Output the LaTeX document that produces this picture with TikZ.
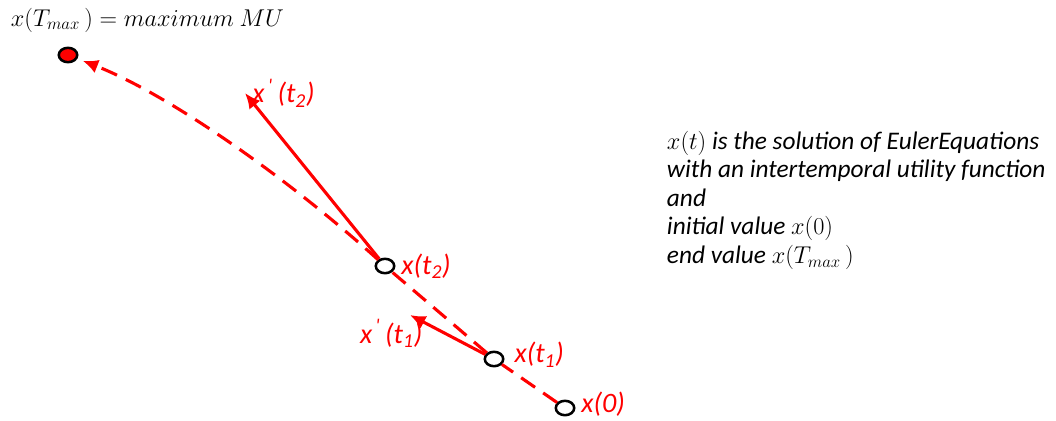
\documentclass[tikz,border=0pt]{standalone}
\usepackage{fontspec}
\setmainfont{Carlito}
\usepackage{tikz}
\usetikzlibrary{arrows.meta,positioning,shapes.geometric}
\definecolor{pathred}{RGB}{255,0,0}
\tikzset{pointbox/.style={draw=black, ellipse, line width=1.8pt, minimum width=0.46cm, minimum height=0.36cm, inner sep=0pt, fill=white}, endbox/.style={pointbox, fill=pathred}, lbl/.style={text=pathred, font=\itshape\fontsize{20}{22}\selectfont, inner sep=1pt}, dpath/.style={pathred, line width=2.2pt, dash pattern=on 12pt off 7pt, -{Latex[length=11pt,width=10pt]}}, vec/.style={pathred, line width=2.2pt, -{Latex[length=11pt,width=10pt]}}}

\begin{document}
\begin{tikzpicture}[x=0.025cm, y=-0.025cm, node distance=4pt]
\useasboundingbox (0,0) rectangle (1056,420);
% points on the path
\node[endbox] (tmax) at (68,55) {};
\node[pointbox] (t2) at (385,266) {};
\node[pointbox] (t1) at (494,359) {};
\node[pointbox] (x0) at (565,408) {};
\coordinate (d2) at (245,93);
\coordinate (d1) at (410,315);
% labels
\node[anchor=west, font=\fontsize{18}{21}\selectfont] (maxlbl) at (6,20) {$x(T_{max}\,) = maximum\ MU$};
\node[lbl, right=3pt of t2] (lt2) {x(t\textsubscript{2})};
\node[lbl, right=6pt of t1, yshift=3pt] (lt1) {x(t\textsubscript{1})};
\node[lbl, right=3pt of x0, yshift=2.5pt] (lx0) {x(0)};
\node[lbl, right=4pt of d2] (ld2) {x\textsuperscript{\,\textquotesingle}\,(t\textsubscript{2})};
\node[lbl, below left=2pt and -10pt of d1] (ld1) {x\textsuperscript{\,\textquotesingle}\,(t\textsubscript{1})};
\node[anchor=north west, align=left, font=\itshape\fontsize{18}{20.3}\selectfont] (note) at (662,126) {$x(t)$ is the solution of EulerEquations\\with an intertemporal utility function\\and\\initial value $x(0)$\\end value $x(T_{max}\,)$};
% path and derivatives
\draw[dpath, shorten >=4pt] (x0) -- (t1) -- (t2) .. controls (290,180) and (170,95) .. (tmax);
\draw[vec] (t2) -- (d2);
\draw[vec] (t1) -- (d1);
\end{tikzpicture}
\end{document}
